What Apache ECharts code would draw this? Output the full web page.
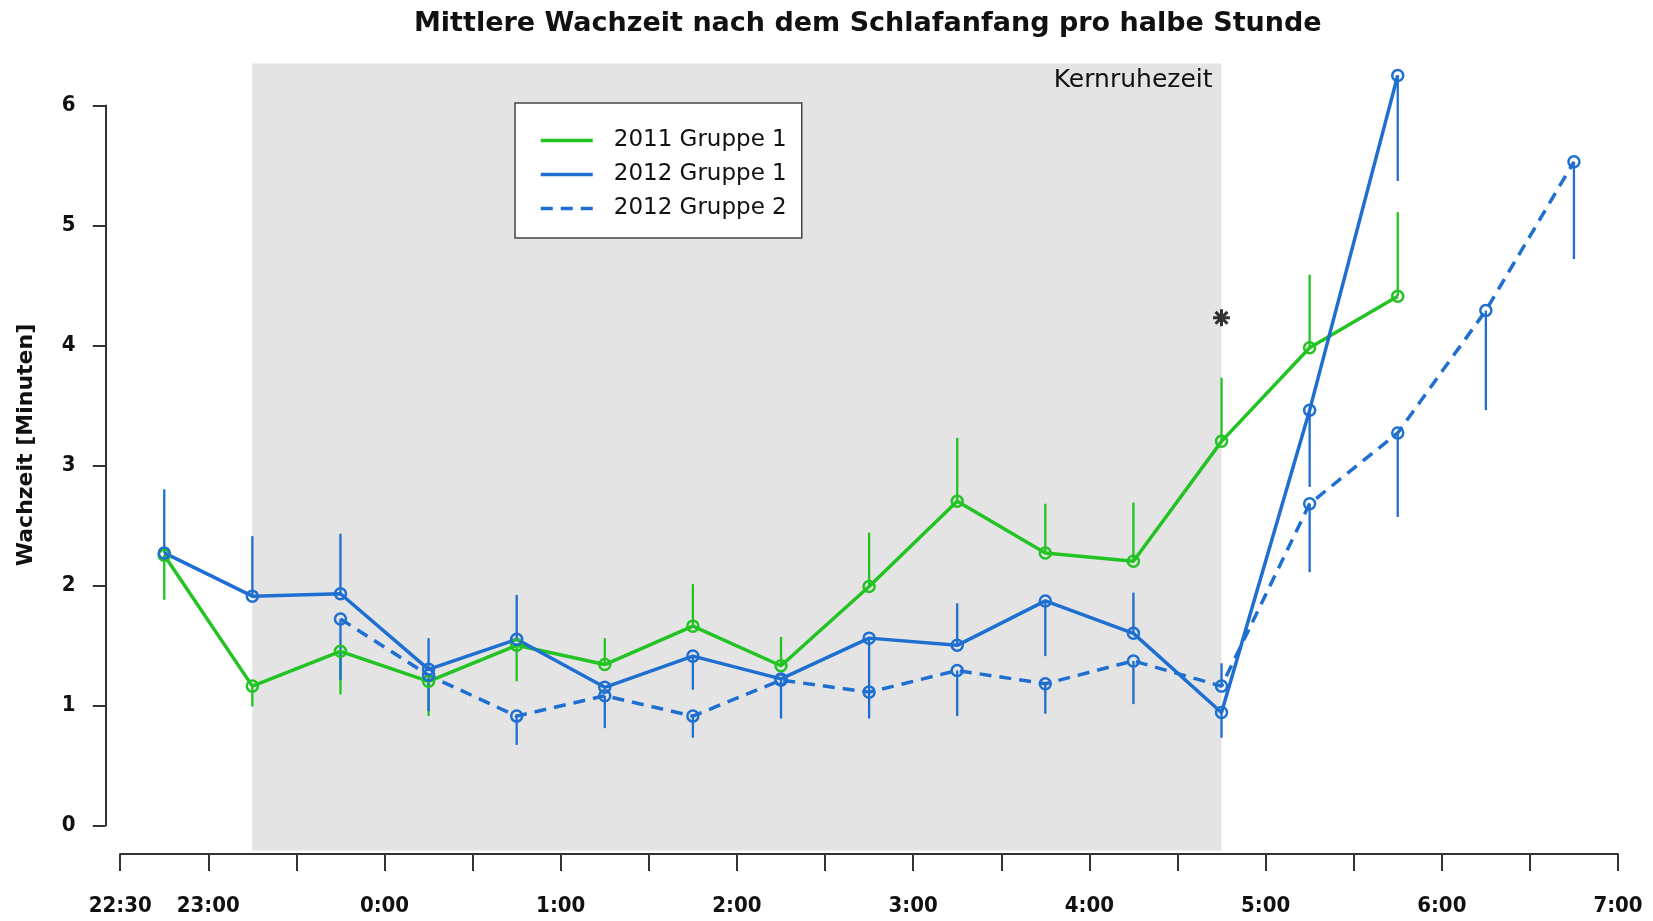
<!DOCTYPE html>
<html><head><meta charset="utf-8">
<script src="https://cdn.jsdelivr.net/npm/echarts@6/dist/echarts.min.js"></script>
<style>html,body{margin:0;padding:0;background:#fff}#c{width:1653px;height:921px}</style>
</head><body><div id="c"></div>
<script>
// ---- data ----
const timeSlots = ["22:45","23:15","23:45","0:15","0:45","1:15","1:45","2:15","2:45","3:15","3:45","4:15","4:45","5:15","5:45","6:15","6:45"];
const mean2011g1 = [2.25, 1.16, 1.45, 1.20, 1.50, 1.34, 1.66, 1.33, 1.99, 2.70, 2.27, 2.20, 3.20, 3.98, 4.41, null, null];
const bar2011g1  = [1.88, 0.99, 1.09, 0.91, 1.20, 1.56, 2.01, 1.57, 2.44, 3.23, 2.68, 2.69, 3.73, 4.59, 5.11, null, null];
const mean2012g1 = [2.27, 1.91, 1.93, 1.30, 1.55, 1.15, 1.41, 1.22, 1.56, 1.50, 1.87, 1.60, 0.94, 3.46, 6.25, null, null];
const bar2012g1  = [2.80, 2.41, 2.43, 1.56, 1.92, null, 1.13, 0.89, 0.89, 1.85, 1.41, 1.94, 0.73, 2.82, 5.37, null, null];
const mean2012g2 = [null, null, 1.72, 1.25, 0.91, 1.08, 0.91, 1.21, 1.11, 1.29, 1.18, 1.37, 1.16, 2.68, 3.27, 4.29, 5.53];
const bar2012g2  = [null, null, 1.21, 0.95, 0.67, 0.81, 0.73, null, null, 0.91, 0.93, 1.01, 1.35, 2.11, 2.57, 3.46, 4.72];
const seriesNames = ["2011 Gruppe 1", "2012 Gruppe 1", "2012 Gruppe 2"];
const coreRest = ["23:15", "4:45"];
const coreRestLabel = "Kernruhezeit";
const sigMarks = [["4:45", 4.23]];
const xTickValues = ["22:30","23:00","0:00","1:00","2:00","3:00","4:00","5:00","6:00","7:00"];
const yTickLabels = ["0","1","2","3","4","5","6"];
const titleText = "Mittlere Wachzeit nach dem Schlafanfang pro halbe Stunde";
const yAxisTitle = "Wachzeit [Minuten]";

// ---- helpers ----
function toHours(t){ const [h,m] = t.split(":").map(Number); return (h < 12 ? h + 24 : h) + m/60; }
const xs = timeSlots.map(toHours);
const labelMap = {};
xTickValues.forEach(t => { labelMap[toHours(t).toFixed(2)] = t; });

const GREEN = '#22c322', BLUE = '#1f6fd0';
const FONT = 'DejaVu Sans Condensed';
const FONTW = 'DejaVu Sans';

function lineSeries(name, means, color, dashed){
  const data = [];
  means.forEach((m,i) => { if (m != null) data.push([xs[i], m]); });
  return {
    type:'line', name, data, z:4,
    symbol:'circle', symbolSize:11,
    itemStyle:{color:'transparent', borderColor:color, borderWidth:2.5},
    lineStyle:{color, width:3.5, type: dashed ? [12,8] : 'solid'},
    color, animation:false
  };
}
function errSeries(name, means, ends, color){
  const data = [];
  means.forEach((m,i) => { if (m != null && ends[i] != null) data.push([xs[i], m, ends[i]]); });
  return {
    type:'custom', name, data, z:3, silent:true, animation:false,
    encode:{x:0, y:[1,2]},
    renderItem(params, api){
      const p1 = api.coord([api.value(0), api.value(1)]);
      const p2 = api.coord([api.value(0), api.value(2)]);
      return {type:'line', shape:{x1:p1[0], y1:p1[1], x2:p2[0], y2:p2[1]}, style:{stroke:color, lineWidth:2.3}};
    }
  };
}

const chart = echarts.init(document.getElementById('c'), null, {renderer:'canvas'});
chart.setOption({
  backgroundColor:'#fff',
  animation:false,
  title:{text:titleText, left:409, top:5,
    textStyle:{fontFamily:FONTW, fontSize:27, fontWeight:'bold', color:'#111'}},
  legend:{
    data:seriesNames, orient:'vertical', left:515, top:103,
    backgroundColor:'#fff', borderColor:'#444', borderWidth:1.5,
    padding:[26,15,18,24], itemWidth:52, itemHeight:14, itemGap:11,
    itemStyle:{opacity:0, borderWidth:0, color:'transparent'},
    lineStyle:{width:3.5},
    textStyle:{fontFamily:FONTW, fontSize:23, color:'#111', padding:[0,0,0,16]},
    selectedMode:false
  },
  grid:[
    {left:120.2, right:35, top:63.4, bottom:70.5},
    {left:105.4, top:105.4, height:720, width:1}
  ],
  xAxis:[
    {type:'value', gridIndex:0, min:22.5, max:31, interval:0.5, offset:3.5,
     axisLine:{show:true, onZero:false, lineStyle:{color:'#333', width:2}},
     axisTick:{show:true, length:17, lineStyle:{color:'#333', width:2}},
     splitLine:{show:false},
     axisLabel:{margin:41, fontFamily:FONT, fontSize:22, fontWeight:'bold', color:'#111',
       showMinLabel:true, showMaxLabel:true,
       formatter: v => labelMap[Number(v).toFixed(2)] || ''}},
    {type:'value', gridIndex:1, min:0, max:1, show:false}
  ],
  yAxis:[
    {type:'value', gridIndex:0, min:-0.21, max:6.35, show:false},
    {type:'value', gridIndex:1, min:0, max:6, interval:1,
     axisLine:{show:true, onZero:false, lineStyle:{color:'#333', width:2}},
     axisTick:{show:true, length:12.6, lineStyle:{color:'#333', width:2}},
     splitLine:{show:false},
     axisLabel:{margin:30, fontFamily:FONT, fontSize:22, fontWeight:'bold', color:'#111',
       formatter: v => yTickLabels[v] ?? ''}}
  ],
  graphic:[
    {type:'text', x:26, y:445, rotation:Math.PI/2,
     style:{text:yAxisTitle, fontFamily:FONTW, fontSize:22, fontWeight:'bold', fill:'#111',
       align:'center', verticalAlign:'middle'}}
  ],
  series:[
    {type:'line', name:'bg', data:[], z:1, silent:true,
     markArea:{silent:true, itemStyle:{color:'#e4e4e4'},
       label:{show:true, position:'insideTopRight', distance:9, offset:[0,-4], formatter:coreRestLabel,
         fontFamily:FONTW, fontSize:25, color:'#111'},
       data:[[{xAxis:toHours(coreRest[0])},{xAxis:toHours(coreRest[1])}]]}},
    errSeries('e1', mean2011g1, bar2011g1, GREEN),
    lineSeries(seriesNames[0], mean2011g1, GREEN, false),
    errSeries('e2', mean2012g1, bar2012g1, BLUE),
    lineSeries(seriesNames[1], mean2012g1, BLUE, false),
    errSeries('e3', mean2012g2, bar2012g2, BLUE),
    lineSeries(seriesNames[2], mean2012g2, BLUE, true),
    {type:'scatter', name:'sig', z:6, silent:true,
     data: sigMarks.map(d => [toHours(d[0]), d[1]]),
     symbol:'path://M0,-10L0,10M-10,0L10,0M-7,-7L7,7M-7,7L7,-7', symbolSize:17,
     itemStyle:{color:'none', borderColor:'#000', borderWidth:3}}
  ]
});
</script></body></html>
